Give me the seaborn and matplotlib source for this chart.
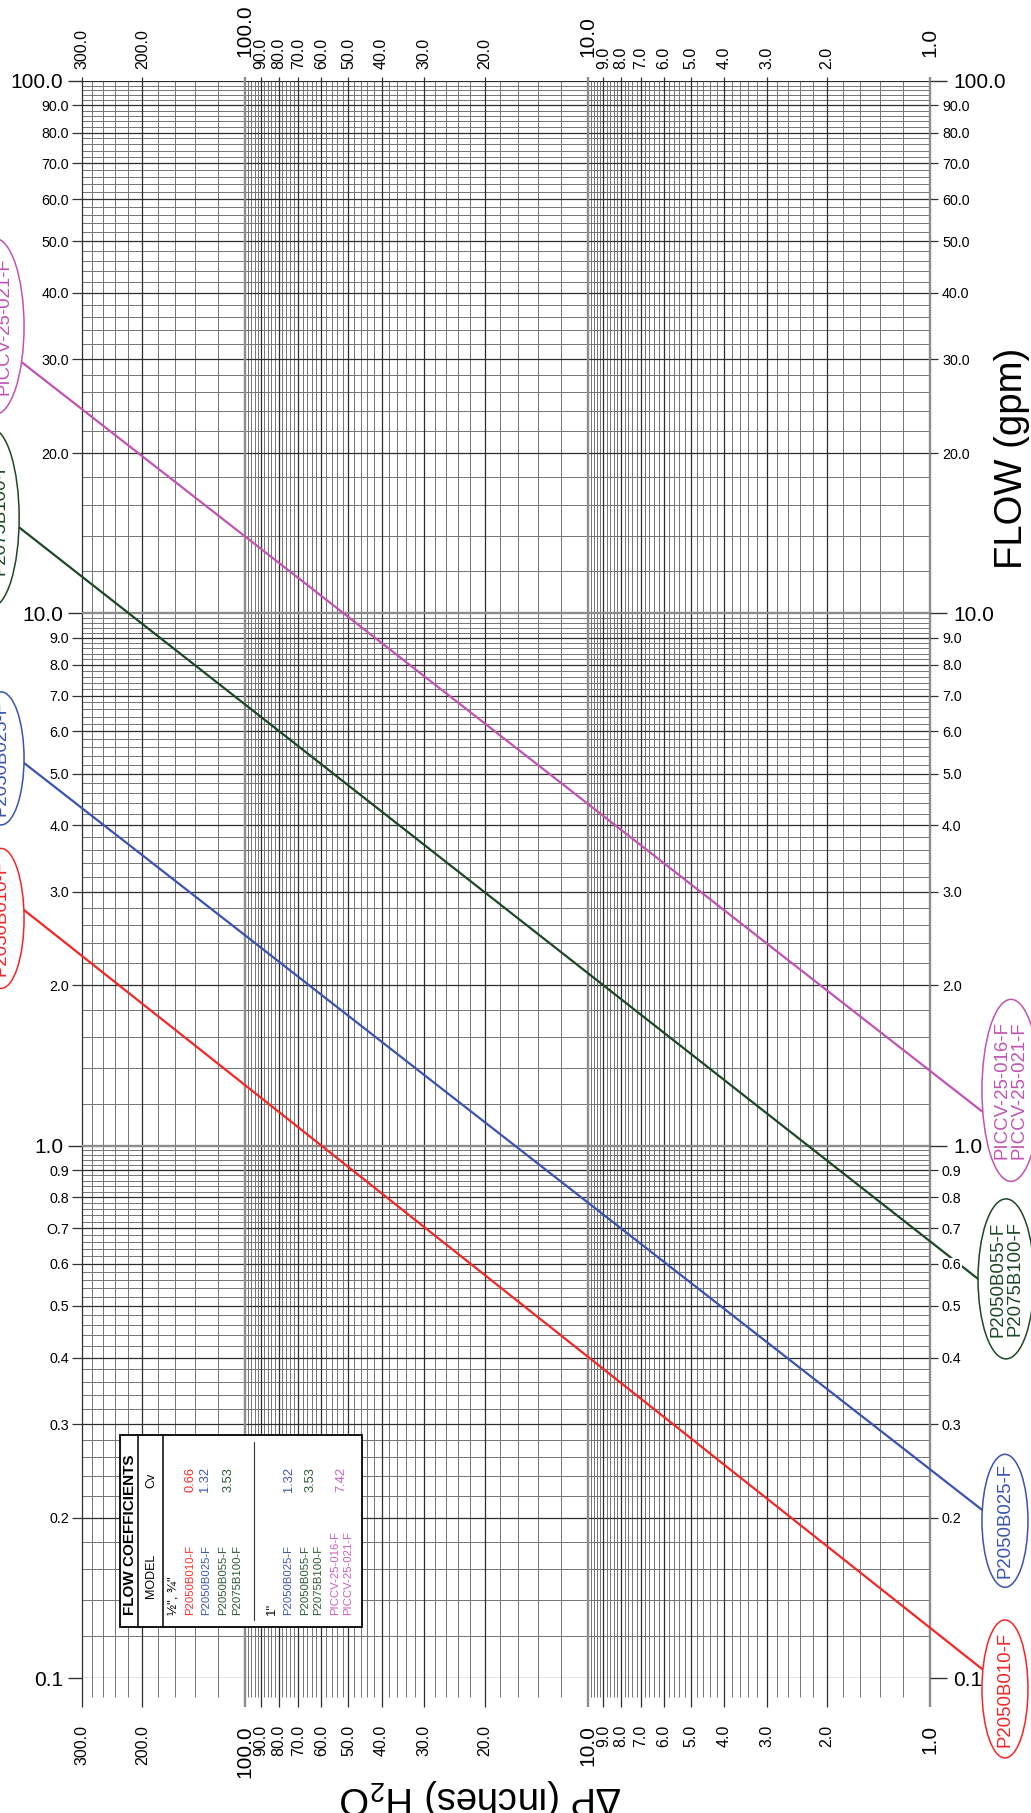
import numpy as np
import pandas as pd
import matplotlib
matplotlib.use("Agg")
import matplotlib.pyplot as plt
import seaborn as sns
from matplotlib.patches import Ellipse, Rectangle
from matplotlib import font_manager as fm

# ---------------- data ----------------
series_names = ["P2050B010-F", "P2050B025-F", "P2050B055-F\nP2075B100-F",
                "PICCV-25-016-F\nPICCV-25-021-F"]
series_colors = ["#f42626", "#3b52b0", "#1d4726", "#c153b3"]
# each line: left label end -> right label end  (dP in inches H2O, flow in gpm)
dp_left = [449.0, 449.0, 464.0, 449.0]
q_left = [2.79, 5.27, 14.6, 29.6]
dp_right = [0.705, 0.705, 0.724, 0.705]
q_right = [0.104, 0.207, 0.562, 1.16]

x_major_ticks = [100, 10, 1]
x_major_labels = ["100.0", "10.0", "1.0"]
x_minor_ticks = [300, 200, 90, 80, 70, 60, 50, 40, 30, 20, 9, 8, 7, 6, 5, 4, 3, 2]
x_minor_labels = ["300.0", "200.0", "90.0", "80.0", "70.0", "60.0", "50.0", "40.0",
                  "30.0", "20.0", "9.0", "8.0", "7.0", "6.0", "5.0", "4.0", "3.0", "2.0"]
y_major_ticks = [100, 10, 1, 0.1]
y_major_labels = ["100.0", "10.0", "1.0", "0.1"]
y_minor_ticks = [90, 80, 70, 60, 50, 40, 30, 20, 9, 8, 7, 6, 5, 4, 3, 2,
                 0.9, 0.8, 0.7, 0.6, 0.5, 0.4, 0.3, 0.2]
y_minor_labels_left = ["90.0", "80.0", "70.0", "60.0", "50.0", "40.0", "30.0", "20.0",
                       "9.0", "8.0", "7.0", "6.0", "5.0", "4.0", "3.0", "2.0",
                       "0.9", "0.8", "O.7", "0.6", "0.5", "0.4", "0.3", "0.2"]
y_minor_labels_right = ["90.0", "80.0", "70.0", "60.0", "50.0", "40.0", "30.0", "20.0",
                        "9.0", "8.0", "7.0", "6.0", "5.0", "4.0", "3.0", "2.0",
                        "0.9", "0.8", "0.7", "0.6", "0.5", "0.4", "0.3", "0.2"]

legend_group1_models = ["P2050B010-F", "P2050B025-F", "P2050B055-F", "P2075B100-F"]
legend_group1_model_colors = ["#ff2b2b", "#3f56b8", "#2a5a32", "#2a5a32"]
legend_group1_cv = ["0.66", "1.32", "3.53"]
legend_group1_cv_colors = ["#ff2b2b", "#3f56b8", "#2a5a32"]
legend_group2_models = ["P2050B025-F", "P2050B055-F", "P2075B100-F",
                        "PICCV-25-016-F", "PICCV-25-021-F"]
legend_group2_model_colors = ["#3f56b8", "#2a5a32", "#2a5a32", "#cc5fbd", "#cc5fbd"]
legend_group2_cv = ["1.32", "3.53", "7.42"]
legend_group2_cv_colors = ["#3f56b8", "#2a5a32", "#cc5fbd"]

# ---------------- style ----------------
sns.set_theme(style="white")
avail = {f.name for f in fm.fontManager.ttflist}
MAIN = "Liberation Sans" if "Liberation Sans" in avail else "DejaVu Sans"
NARROW = "Liberation Sans Narrow" if "Liberation Sans Narrow" in avail else MAIN
nscale = 1.0 if NARROW == "Liberation Sans Narrow" else 0.84
plt.rcParams["font.family"] = [MAIN, "DejaVu Sans"]
plt.rcParams["mathtext.fontset"] = "custom"
plt.rcParams["mathtext.rm"] = MAIN
plt.rcParams["mathtext.default"] = "regular"
plt.rcParams["text.color"] = "black"

W, H, DPI = 1031, 1813, 100
PT = 72.0 / DPI
def fx(px): return px / W
def fy(py): return 1 - py / H

fig = plt.figure(figsize=(W / DPI, H / DPI), dpi=DPI, facecolor="white")
L, R, T, B = 82, 930, 81, 1678
AXH = B - T
ax = fig.add_axes([fx(L), fy(B), (R - L) / W, AXH / H])
ax.set_xscale("log")
ax.set_yscale("log")
ax.set_xlim(300, 1)
ax.set_ylim(0.1, 100)
for s in ax.spines.values():
    s.set_visible(False)

# ---------------- graph-paper grid ----------------
def multiples(lo, hi, step):
    n = int(round((hi - lo) / step))
    return [round(lo + i * step, 6) for i in range(n + 1)]

grid_x = sorted(set(multiples(1, 10, 0.2) + multiples(10, 100, 2) + multiples(100, 300, 20)))
grid_y = sorted(set(multiples(0.1, 1, 0.02) + multiples(1, 10, 0.2) + multiples(10, 100, 2)))
lab_x = x_major_ticks + x_minor_ticks
lab_y = y_major_ticks + y_minor_ticks
def isin(v, lst): return any(abs(v - t) < 1e-6 for t in lst)

minor_x = [v for v in grid_x if not isin(v, lab_x)]
minor_y = [v for v in grid_y if not isin(v, lab_y)]
dec_x = [1, 10, 100]
dec_y = [1, 10]
dark_x = [v for v in lab_x if not isin(v, dec_x)]
dark_y = [v for v in lab_y if not isin(v, dec_y)]

xt = ax.get_xaxis_transform()
yt = ax.get_yaxis_transform()
ax.hlines(minor_y, 0, 1, transform=yt, colors="#747474", lw=0.7, zorder=1)
ax.vlines(minor_x, -19 / AXH, 1, transform=xt, colors="#747474", lw=0.7,
          zorder=1, clip_on=False)
ax.hlines(dark_y, 0, 1, transform=yt, colors="#2e2e2e", lw=0.9, zorder=1.2)
ax.vlines(dark_x, -29 / AXH, 1 + 4 / AXH, transform=xt, colors="#2e2e2e", lw=0.9,
          zorder=1.2, clip_on=False)
ax.hlines(dec_y, 0, 1, transform=yt, colors="#8c8c8c", lw=1.7, zorder=1.3)
ax.vlines(dec_x, -29 / AXH, 1 + 4 / AXH, transform=xt, colors="#8c8c8c", lw=1.7,
          zorder=1.3, clip_on=False)

# ---------------- flow lines ----------------
rows = []
for name, x0, y0, x1, y1 in zip(series_names, dp_left, q_left, dp_right, q_right):
    rows.append(dict(model=name, dp=x0, q=y0))
    rows.append(dict(model=name, dp=x1, q=y1))
df = pd.DataFrame(rows)
sns.lineplot(data=df, x="dp", y="q", hue="model", hue_order=series_names,
             palette=dict(zip(series_names, series_colors)), legend=False,
             ax=ax, linewidth=1.6, zorder=2, errorbar=None)
for ln in ax.lines:
    ln.set_clip_on(False)
ax.set_xlim(300, 1)
ax.set_ylim(0.1, 100)
ax.set_xlabel("")
ax.set_ylabel("")

# ---------------- ticks ----------------
ax.set_xticks(x_major_ticks, labels=x_major_labels)
ax.set_xticks(x_minor_ticks, labels=x_minor_labels, minor=True)
ax.set_yticks(y_major_ticks, labels=y_major_labels)
ax.set_yticks(y_minor_ticks, labels=y_minor_labels_left, minor=True)

ax2 = ax.twiny()
ax2.set_xscale("log")
ax2.set_xlim(300, 1)
ax2.set_xticks(x_major_ticks, labels=x_major_labels)
ax2.set_xticks(x_minor_ticks, labels=x_minor_labels, minor=True)

ax3 = ax.twinx()
ax3.set_yscale("log")
ax3.set_ylim(0.1, 100)
ax3.set_yticks(y_major_ticks, labels=y_major_labels)
ax3.set_yticks(y_minor_ticks, labels=y_minor_labels_right, minor=True)
for a in (ax2, ax3):
    for s in a.spines.values():
        s.set_visible(False)
    a.grid(False)

ax.tick_params(axis="x", which="both", bottom=True, length=0, labelrotation=90,
               pad=47 * PT, labelcolor="black")
ax.tick_params(axis="x", which="major", labelsize=15)
ax.tick_params(axis="x", which="minor", labelsize=11.5)
ax2.tick_params(axis="x", which="both", top=True, length=0, labelrotation=90,
                labelcolor="black")
ax2.tick_params(axis="x", which="major", labelsize=15, pad=24 * PT)
ax2.tick_params(axis="x", which="minor", labelsize=11.5, pad=12 * PT)

ax.tick_params(axis="y", which="major", left=True, length=14 * PT, width=1.0,
               color="#333333", pad=5 * PT, labelsize=15, labelcolor="black")
ax.tick_params(axis="y", which="minor", left=True, length=10 * PT, width=0.9,
               color="#333333", pad=3 * PT, labelsize=10.3, labelcolor="black")
ax3.tick_params(axis="y", which="major", right=True, length=17 * PT, width=1.0,
                color="#333333", pad=6 * PT, labelsize=15, labelcolor="black")
ax3.tick_params(axis="y", which="minor", right=True, length=8 * PT, width=0.9,
                color="#333333", pad=4 * PT, labelsize=10.3, labelcolor="black")
for tk in ax3.yaxis.get_minor_ticks() + ax3.yaxis.get_major_ticks():
    tk.label2.set_bbox(dict(facecolor="white", edgecolor="none", pad=0))

# ---------------- labels on the line ends ----------------
def to_px(x, y):
    d = ax.transData.transform((x, y))
    return d[0], H - d[1]

right_specs = [(46, 138, 20), (46, 133, 11), (56, 160, 0), (58, 182, -21)]
left_specs = [(46, 140, 10), (46, 133, -3), (56, 179, -8), (58, 176, -36)]
for i, name in enumerate(series_names):
    col = series_colors[i]
    ex, ey = to_px(dp_right[i], q_right[i])
    w, h, dy = right_specs[i]
    cx, cy = ex + w / 2, ey + dy
    fig.add_artist(Ellipse((fx(cx), fy(cy)), w / W, h / H, transform=fig.transFigure,
                           facecolor="white", edgecolor=col, lw=1.1, zorder=4))
    fig.text(fx(cx), fy(cy), name, rotation=90, ha="center", va="center", color=col,
             fontsize=16 * nscale, family=[NARROW, "DejaVu Sans"], linespacing=1.0,
             zorder=5)
    ex, ey = to_px(dp_left[i], q_left[i])
    w, h, dy = left_specs[i]
    cx, cy = ex + 2 - w / 2, ey + dy
    fig.add_artist(Ellipse((fx(cx), fy(cy)), w / W, h / H, transform=fig.transFigure,
                           facecolor="white", edgecolor=col, lw=1.1, zorder=4))
    fig.text(fx(cx), fy(cy), name, rotation=90, ha="center", va="center", color=col,
             fontsize=16 * nscale, family=[NARROW, "DejaVu Sans"], linespacing=1.0,
             zorder=5)

# ---------------- axis titles ----------------
fig.text(fx(1012), fy(458), "FLOW (gpm)", rotation=90, ha="center", va="center",
         fontsize=27.5, color="black")
fig.text(fx(481), fy(1797), "ΔP (inches) H$_2$O", rotation=180, ha="center",
         va="center", fontsize=27.5, color="black")

# ---------------- flow coefficient table ----------------
bx0, bx1, by0, by1 = 120, 362, 1435, 1627
fig.add_artist(Rectangle((fx(bx0), fy(by1)), (bx1 - bx0) / W, (by1 - by0) / H,
                         transform=fig.transFigure, facecolor="white",
                         edgecolor="black", lw=1.3, zorder=5))
for xv in (138, 163):
    fig.add_artist(plt.Line2D([fx(xv), fx(xv)], [fy(by0), fy(by1)],
                              transform=fig.transFigure, color="black", lw=1.1, zorder=6))
fig.add_artist(plt.Line2D([fx(254), fx(254)], [fy(1442), fy(1620)],
                          transform=fig.transFigure, color="#333333", lw=0.8, zorder=6))

fig.text(fx(130), fy(1615), "FLOW COEFFICIENTS", rotation=90, ha="center", va="bottom",
         fontsize=11, fontweight="bold", color="black", zorder=7)
fig.text(fx(151), fy(1598), "MODEL", rotation=90, ha="center", va="bottom",
         fontsize=9, color="black", zorder=7)
fig.text(fx(151), fy(1488), "Cv", rotation=90, ha="center", va="bottom",
         fontsize=9, color="black", zorder=7)
fig.text(fx(174), fy(1615), "½\", ¾\"", rotation=90, ha="center", va="bottom",
         fontsize=9.5, color="black", zorder=7)
fig.text(fx(272), fy(1615), "1\"", rotation=90, ha="center", va="bottom",
         fontsize=9.5, color="black", zorder=7)

g1_model_x = [190, 206, 223, 237]
g1_cv_x = [190, 205, 229]
g2_model_x = [288, 305, 318, 335, 348]
g2_cv_x = [289, 311, 341]
for txt, col, xv in zip(legend_group1_models, legend_group1_model_colors, g1_model_x):
    fig.text(fx(xv), fy(1615), txt, rotation=90, ha="center", va="bottom", color=col,
             fontsize=9.8 * nscale, family=[NARROW, "DejaVu Sans"], zorder=7)
for txt, col, xv in zip(legend_group2_models, legend_group2_model_colors, g2_model_x):
    fig.text(fx(xv), fy(1615), txt, rotation=90, ha="center", va="bottom", color=col,
             fontsize=9.8 * nscale, family=[NARROW, "DejaVu Sans"], zorder=7)
for txt, col, xv in zip(legend_group1_cv, legend_group1_cv_colors, g1_cv_x):
    fig.text(fx(xv), fy(1467), txt, rotation=90, ha="center", va="top", color=col,
             fontsize=9.3, zorder=7)
for txt, col, xv in zip(legend_group2_cv, legend_group2_cv_colors, g2_cv_x):
    fig.text(fx(xv), fy(1467), txt, rotation=90, ha="center", va="top", color=col,
             fontsize=9.3, zorder=7)

fig.savefig("out.png", dpi=DPI, facecolor="white")
